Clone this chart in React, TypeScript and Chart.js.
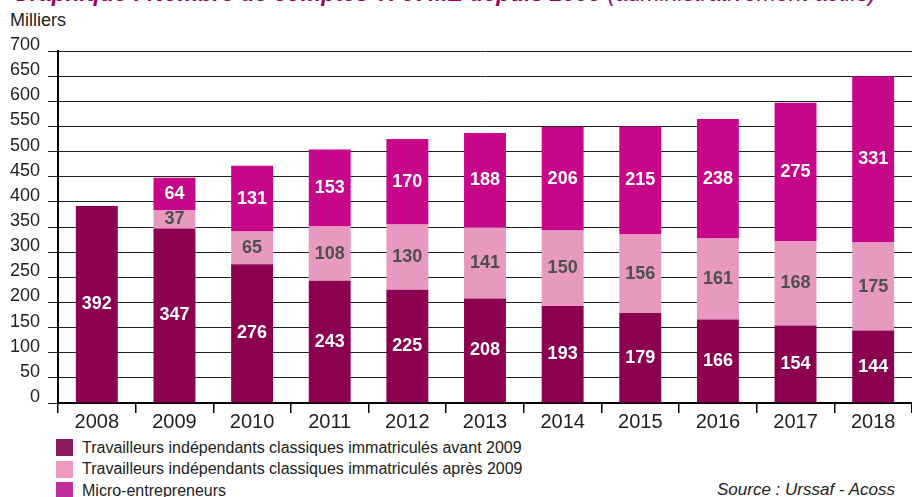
import React, { useEffect, useRef } from "react";
import { Chart, registerables } from "chart.js";

Chart.register(...registerables);

const years = ["2008", "2009", "2010", "2011", "2012", "2013", "2014", "2015", "2016", "2017", "2018"];
const avant2009 = [392, 347, 276, 243, 225, 208, 193, 179, 166, 154, 144];
const apres2009 = [0, 37, 65, 108, 130, 141, 150, 156, 161, 168, 175];
const microEntrepreneurs = [0, 64, 131, 153, 170, 188, 206, 215, 238, 275, 331];
const seriesNames = [
  "Travailleurs indépendants classiques immatriculés avant 2009",
  "Travailleurs indépendants classiques immatriculés après 2009",
  "Micro-entrepreneurs",
];
const barColors = ["#8c0050", "#e899bf", "#c7078a"];
const legendColors = ["#8c1a5c", "#ec9ac2", "#c0309a"];
const labelColors = ["#ffffff", "#4f4f4f", "#ffffff"];

const FONT = "'Liberation Sans', Arial, sans-serif";

const valueLabels = {
  id: "valueLabels",
  afterDatasetsDraw(chart: any) {
    const ctx = chart.ctx;
    ctx.save();
    ctx.font = `bold 18px ${FONT}`;
    ctx.textAlign = "center";
    ctx.textBaseline = "middle";
    chart.data.datasets.forEach((ds: any, di: number) => {
      const meta = chart.getDatasetMeta(di);
      meta.data.forEach((bar: any, i: number) => {
        const v = ds.data[i];
        if (!v) return;
        ctx.fillStyle = labelColors[di];
        ctx.fillText(String(v), bar.x, (bar.y + bar.base) / 2);
      });
    });
    ctx.restore();
  },
};

export default function App() {
  const ref = useRef<HTMLCanvasElement | null>(null);
  useEffect(() => {
    document.body.style.margin = "0";
    const data = [avant2009, apres2009, microEntrepreneurs];
    const chart = new Chart(ref.current as HTMLCanvasElement, {
      type: "bar",
      data: {
        labels: years,
        datasets: data.map((d, i) => ({
          label: seriesNames[i],
          data: d,
          backgroundColor: barColors[i],
          borderWidth: 0,
          barPercentage: 0.54,
          categoryPercentage: 1,
        })),
      },
      options: {
        responsive: false,
        animation: false,
        layout: { padding: { top: 51, left: 0, right: 0, bottom: 0 } },
        plugins: { legend: { display: false }, tooltip: { enabled: false } },
        scales: {
          x: {
            stacked: true,
            afterFit: (s: any) => { s.height = 29; },
            grid: { offset: true, drawOnChartArea: false, drawTicks: true, tickLength: 10, color: "#000", lineWidth: 1.5 },
            border: { display: true, color: "#000", width: 2 },
            ticks: { color: "#222", font: { family: FONT, size: 20 }, padding: -3, maxRotation: 0 },
          },
          y: {
            stacked: true,
            min: 0,
            max: 700,
            afterFit: (s: any) => { s.width = 58; },
            grid: { color: "#222", lineWidth: 1, tickLength: 10, drawTicks: true },
            border: { display: true, color: "#000", width: 2 },
            ticks: { stepSize: 50, color: "#222", font: { family: FONT, size: 18 }, padding: 8, labelOffset: -6 },
          },
        },
      },
      plugins: [valueLabels],
    });
    return () => chart.destroy();
  }, []);

  return (
    <div style={{ position: "relative", width: 912, height: 497, overflow: "hidden", fontFamily: FONT, background: "#fff" }}>
      <div style={{ position: "absolute", left: 12, top: -20, whiteSpace: "nowrap", color: "#a0005e", fontSize: 23, fontStyle: "italic" }}>
        <span style={{ fontWeight: "bold" }}>Graphique : Nombre de comptes TI et ME depuis 2008</span>{" "}
        <span>(administrativement actifs)</span>
      </div>
      <div style={{ position: "absolute", left: 10, top: 10, fontSize: 18, color: "#222" }}>Milliers</div>
      <canvas ref={ref} width={912} height={432} style={{ position: "absolute", left: 0, top: 0 }} />
      {seriesNames.map((n, i) => (
        <div key={n} style={{ position: "absolute", left: 56, top: 439 + i * 21.5, height: 17, display: "flex", alignItems: "center", whiteSpace: "nowrap" }}>
          <span style={{ display: "inline-block", width: 17, height: 17, background: legendColors[i], marginRight: 9 }} />
          <span style={{ fontSize: 16, color: "#222" }}>{n}</span>
        </div>
      ))}
      <div style={{ position: "absolute", left: 717, top: 480, fontSize: 17, fontStyle: "italic", color: "#222", whiteSpace: "nowrap" }}>Source : Urssaf - Acoss</div>
    </div>
  );
}
